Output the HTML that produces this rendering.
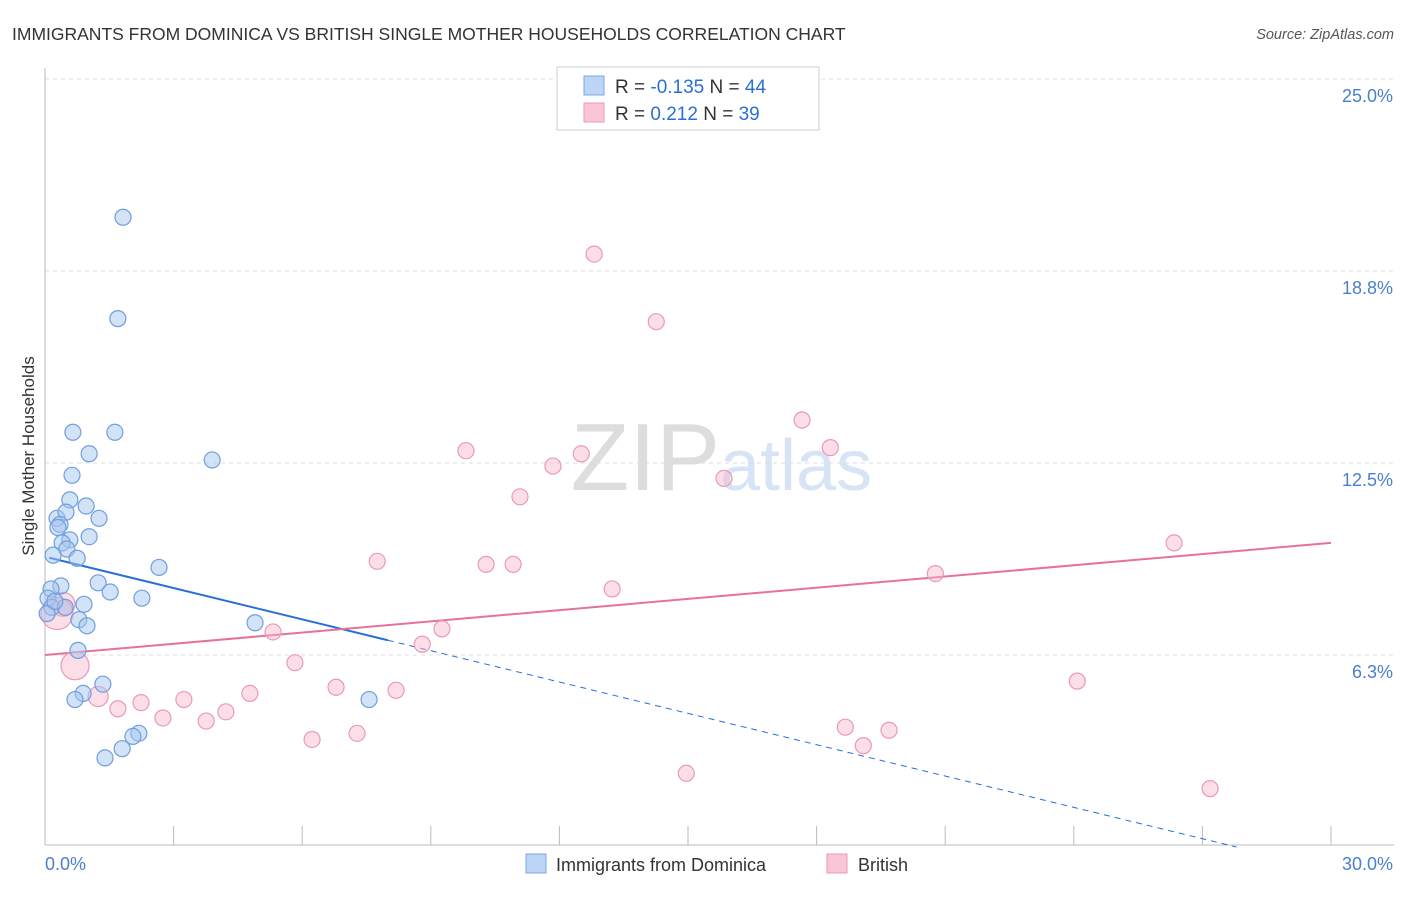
<!DOCTYPE html>
<html><head><meta charset="utf-8"><style>
body{margin:0;background:#fff;font-family:"Liberation Sans",sans-serif}
svg text{font-family:"Liberation Sans",sans-serif}
</style></head><body>
<svg id="c" width="1406" height="892">
<text x="12" y="40" font-size="17.5" fill="#333">IMMIGRANTS FROM DOMINICA VS BRITISH SINGLE MOTHER HOUSEHOLDS CORRELATION CHART</text>
<text x="1394" y="39" font-size="14.5" fill="#555" font-style="italic" text-anchor="end">Source: ZipAtlas.com</text>
<text x="720" y="490" font-size="96" fill="#ddd" text-anchor="end" font-family="Liberation Serif">ZIP</text>
<text x="720" y="490" font-size="72" fill="#d6e4f5">atlas</text>
<text transform="translate(34,456) rotate(-90)" font-size="17" fill="#333" text-anchor="middle">Single Mother Households</text>
<g id="grid"></g><g id="axes"></g><g id="lines"></g><g id="pts"></g>
<g>
<rect x="557" y="67" width="262" height="63" fill="#fff" stroke="#ccc"/>
<rect x="584" y="76" width="20" height="19" fill="#bcd5f7" stroke="#7aa8e0"/>
<rect x="584" y="103" width="20" height="19" fill="#fac6d6" stroke="#e99ab5"/>
<text x="615" y="93" font-size="19" fill="#333">R = <tspan fill="#2a6fd6">-0.135</tspan>   N = <tspan fill="#2a6fd6">44</tspan></text>
<text x="615" y="120" font-size="19" fill="#333">R =   <tspan fill="#2a6fd6">0.212</tspan>   N = <tspan fill="#2a6fd6">39</tspan></text>
</g>
<g>
<rect x="526" y="854" width="20" height="19" fill="#bcd5f7" stroke="#7aa8e0"/>
<text x="556" y="871" font-size="18" fill="#333">Immigrants from Dominica</text>
<rect x="827" y="854" width="20" height="19" fill="#fac6d6" stroke="#e99ab5"/>
<text x="858" y="871" font-size="18" fill="#333">British</text>
</g>
</svg>
<script>
const yTicks=[6.25,12.5,18.75,25];
const yTickLabels=["6.3%","12.5%","18.8%","25.0%"];
const xTickVals=[0,3,6,9,12,15,18,21,24,27,30];
const blueX=[1.82,1.70,0.65,1.63,1.03,3.90,0.63,0.58,0.96,0.28,0.49,1.26,0.35,0.30,0.58,1.03,0.40,0.51,0.19,0.75,2.66,1.24,0.37,0.14,1.52,2.26,0.07,0.91,0.16,0.47,0.05,0.79,0.98,4.90,0.77,1.35,0.89,0.70,7.56,2.19,2.05,1.80,1.40,0.23];
const blueY=[20.5,17.2,13.5,13.5,12.8,12.6,12.1,11.3,11.1,10.7,10.9,10.7,10.5,10.4,10.0,10.1,9.9,9.7,9.5,9.4,9.1,8.6,8.5,8.4,8.3,8.1,8.1,7.9,7.8,7.8,7.6,7.4,7.2,7.3,6.4,5.3,5.0,4.8,4.8,3.7,3.6,3.2,2.9,8.0];
const pinkX=[12.81,14.26,17.66,18.32,9.82,12.51,11.85,15.84,11.08,26.34,7.75,10.29,10.92,20.77,13.23,0.42,0.28,9.26,5.32,8.80,0.70,5.83,24.08,6.79,8.19,4.78,3.24,1.24,2.24,1.70,4.22,2.75,3.76,18.67,19.69,7.28,6.23,19.09,14.96,27.18];
const pinkY=[19.3,17.1,13.9,13.0,12.9,12.8,12.4,12.0,11.4,9.9,9.3,9.2,9.2,8.9,8.4,7.9,7.6,7.1,7.0,6.6,5.9,6.0,5.4,5.2,5.1,5.0,4.8,4.9,4.7,4.5,4.4,4.2,4.1,3.9,3.8,3.7,3.5,3.3,2.4,1.9];
const pinkR=[8,8,8,8,8,8,8,8,8,8,8,8,8,8,8,12,16,8,8,8,14,8,8,8,8,8,8,10,8,8,8,8,8,8,8,8,8,8,8,8];
const blueTrend=[9.45,-0.34];
const pinkTrend=[6.25,0.1217];
const blueSolidEnd=8;
const X=v=>45+v/30*1286, Y=v=>847-v*30.72;
const NS="http://www.w3.org/2000/svg";
function mk(t,a,p){const e=document.createElementNS(NS,t);for(const k in a)e.setAttribute(k,a[k]);document.getElementById(p).appendChild(e);return e;}
yTicks.forEach((t,i)=>{
 const g=mk('line',{x1:45,x2:1394,y1:Y(t),y2:Y(t),stroke:'#ddd','stroke-dasharray':'4,4'},'grid');
 
 
 const l=mk('text',{x:1393,y:Y(t)+23,'font-size':18,fill:'#4a7fd0','text-anchor':'end'},'axes');l.textContent=yTickLabels[i];
 
 
});
let ax=mk('line',{x1:45,x2:1394,y1:845,y2:845,stroke:'#bbb'},'axes');


let ay=mk('line',{x1:45,x2:45,y1:68,y2:845,stroke:'#bbb'},'axes');


xTickVals.forEach(v=>{const t=mk('line',{x1:X(v),x2:X(v),y1:826,y2:845,stroke:'#bbb'},'axes');
 
 });
let xl=mk('text',{x:45,y:870,'font-size':18,fill:'#4a7fd0'},'axes');xl.textContent='0.0%';


let xr=mk('text',{x:1393,y:870,'font-size':18,fill:'#4a7fd0','text-anchor':'end'},'axes');xr.textContent='30.0%';


const bf=x=>blueTrend[0]+blueTrend[1]*x, pf=x=>pinkTrend[0]+pinkTrend[1]*x;
let b1=mk('line',{x1:X(0.1),y1:Y(bf(0.1)),x2:X(blueSolidEnd),y2:Y(bf(blueSolidEnd)),stroke:'#2a6fd6','stroke-width':2},'lines');


const bEnd=-blueTrend[0]/blueTrend[1];
let b2=mk('line',{x1:X(blueSolidEnd),y1:Y(bf(blueSolidEnd)),x2:X(bEnd),y2:Y(0),stroke:'#2a6fd6','stroke-width':1,'stroke-dasharray':'6,5'},'lines');


let p1=mk('line',{x1:X(0),y1:Y(pf(0)),x2:X(30),y2:Y(pf(30)),stroke:'#e8719a','stroke-width':2},'lines');


pinkX.forEach((x,i)=>{const c=mk('circle',{cx:X(x),cy:Y(pinkY[i]),r:pinkR[i],fill:'rgba(248,182,204,0.45)',stroke:'#e99ab5','stroke-width':1.2},'pts');
 
 });
blueX.forEach((x,i)=>{const c=mk('circle',{cx:X(x),cy:Y(blueY[i]),r:8,fill:'rgba(165,198,240,0.5)',stroke:'#6f9fdc','stroke-width':1.2},'pts');
 
 });
</script>
</body></html>
